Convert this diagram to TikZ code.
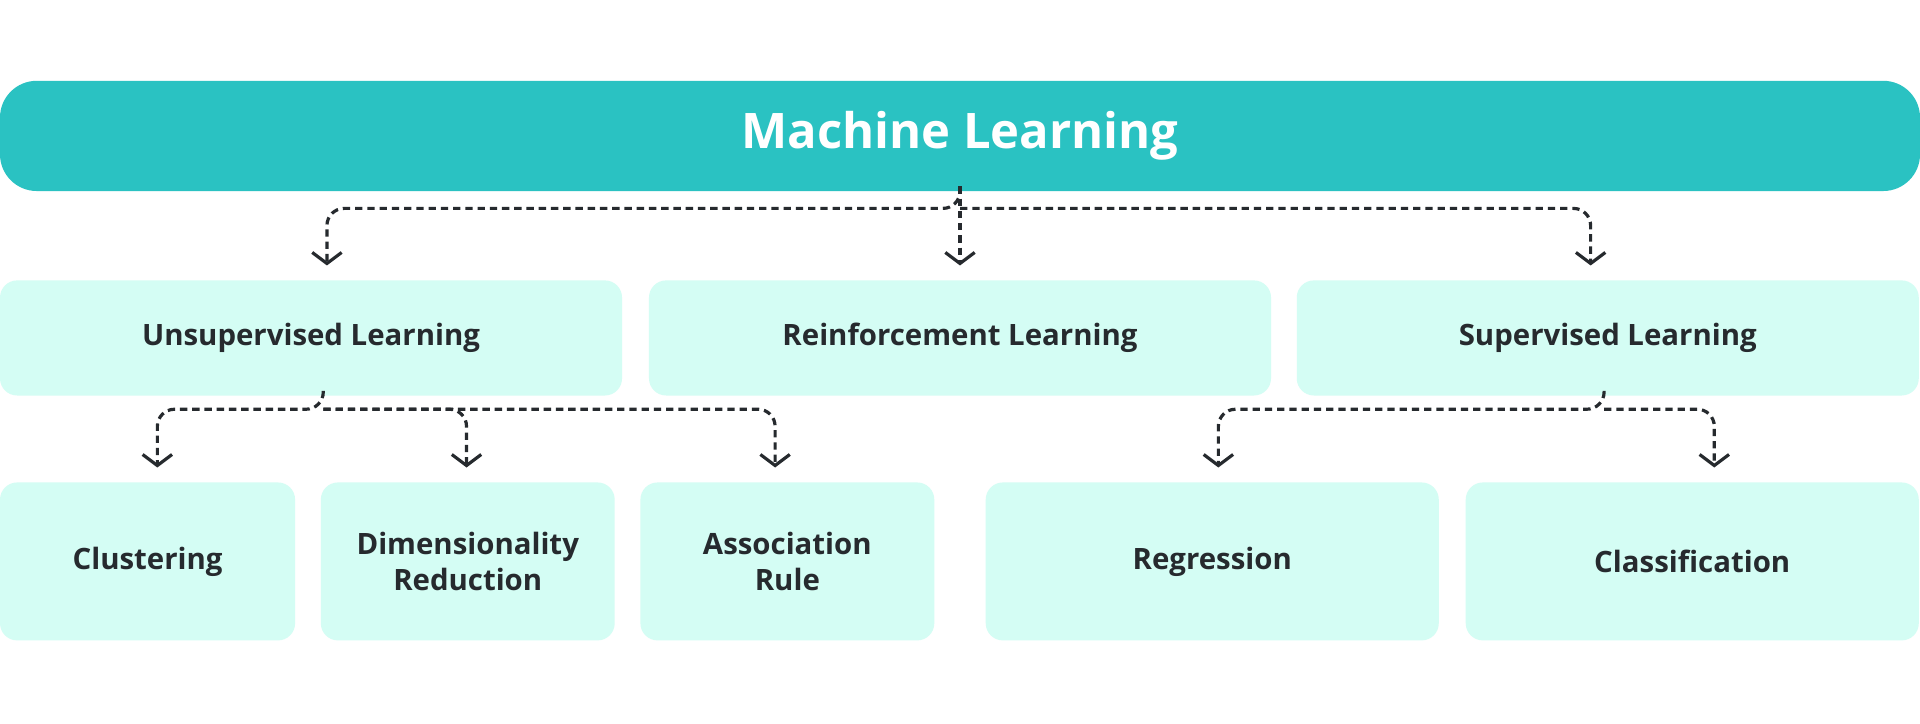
\documentclass[tikz,border=0pt]{standalone}
\usepackage{fontspec}
\setmainfont{Open Sans}
\usetikzlibrary{arrows.meta}
\definecolor{teal1}{HTML}{2AC2C2}
\definecolor{mint}{HTML}{D4FDF4}
\definecolor{ink}{HTML}{262A2E}
\begin{document}
\begin{tikzpicture}[x=1pt,y=-1pt,
  box/.style={fill=mint,rounded corners=14pt,inner sep=0pt,align=center,font=\fontsize{24}{29}\selectfont\bfseries,text=ink},
  conn/.style={draw=ink,line width=2.6pt,dash pattern=on 6pt off 4pt,rounded corners=14pt,-{Straight Barb[length=9pt,width=24pt,line width=2.6pt]},shorten >=12pt}]
\useasboundingbox[fill=white] (0,0) rectangle (1568,590.5);
\node[fill=teal1,rounded corners=30pt,minimum width=1568pt,minimum height=90pt,inner sep=0pt,text=white,font=\fontsize{40}{48}\selectfont\bfseries] (ml) at (784,111) {Machine Learning};
\node[box,minimum width=508pt,minimum height=94pt] (ul) at (254,276) {Unsupervised Learning};
\node[box,minimum width=508pt,minimum height=94pt] (rl) at (784,276) {Reinforcement Learning};
\node[box,minimum width=508pt,minimum height=94pt] (sl) at (1313,276) {Supervised Learning};
\node[box,minimum width=241pt,minimum height=129pt] (cl) at (120.5,458.5) {Clustering};
\node[box,minimum width=240pt,minimum height=129pt] (dr) at (382,458.5) {Dimensionality\\Reduction};
\node[box,minimum width=240pt,minimum height=129pt] (ar) at (643,458.5) {Association\\Rule};
\node[box,minimum width=370pt,minimum height=129pt] (rg) at (990,458.5) {Regression};
\node[box,minimum width=370pt,minimum height=129pt] (cf) at (1382,458.5) {Classification};
\coordinate (m0) at ([yshift=4pt]ml.south);
\draw[conn] (m0) -- ++(0,18) -| ([xshift=13pt]ul.north);
\draw[conn] (m0) -- (rl.north);
\draw[conn] (m0) ++(0,18) -| ([xshift=-14pt]sl.north);
\coordinate (u0) at ([xshift=10pt,yshift=4pt]ul.south);
\draw[conn] (u0) -- ++(0,15) -| ([xshift=8pt]cl.north);
\draw[conn] (u0) ++(0,15) -| ([xshift=-1pt]dr.north);
\draw[conn] (u0) ++(0,15) -| ([xshift=-10pt]ar.north);
\coordinate (s0) at ([xshift=-3pt,yshift=4pt]sl.south);
\draw[conn] (s0) -- ++(0,15) -| ([xshift=5pt]rg.north);
\draw[conn] (s0) ++(0,15) -| ([xshift=18pt]cf.north);
\end{tikzpicture}
\end{document}
